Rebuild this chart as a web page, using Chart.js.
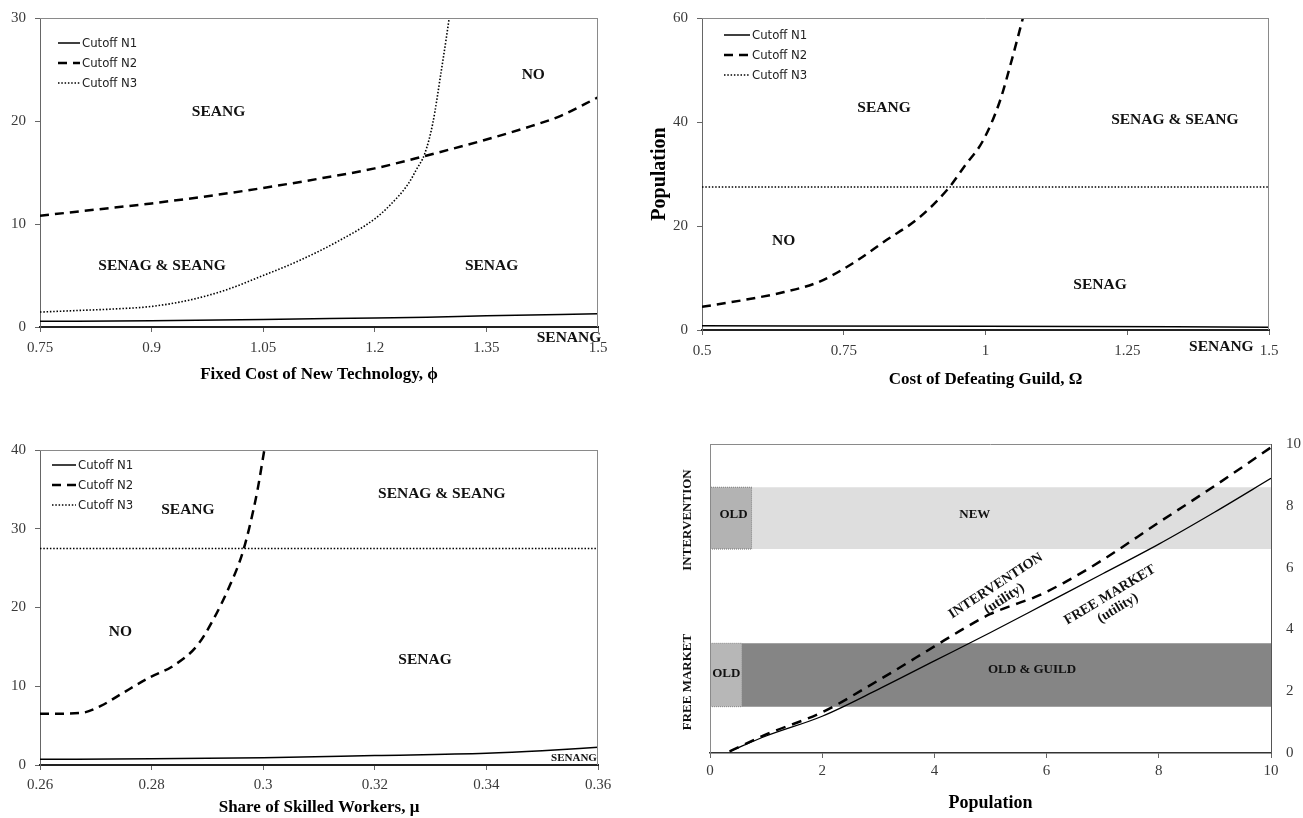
<!DOCTYPE html>
<html>
<head>
<meta charset="utf-8">
<script src="https://cdn.jsdelivr.net/npm/chart.js"></script>
<style>
  body { margin: 0; background: #fff; width: 1303px; height: 818px; position: relative; overflow: hidden; }
  canvas { position: absolute; }
</style>
</head>
<body>
<canvas id="c1" width="650" height="400" style="left:0;top:0"></canvas>
<canvas id="c2" width="658" height="400" style="left:645px;top:0"></canvas>
<canvas id="c3" width="650" height="418" style="left:0;top:400px"></canvas>
<canvas id="c4" width="653" height="418" style="left:650px;top:400px"></canvas>
<script>
// ---- data ----

// A: fixed cost of new technology (phi)
const aN1x = [0.75, 0.9, 1.05, 1.2, 1.27, 1.35, 1.5];
const aN1y = [0.55, 0.6, 0.72, 0.88, 0.95, 1.1, 1.28];
const aN2x = [0.75, 0.825, 0.9, 0.975, 1.05, 1.125, 1.2, 1.267, 1.35, 1.41, 1.45, 1.5];
const aN2y = [10.8, 11.4, 12.0, 12.7, 13.5, 14.4, 15.4, 16.6, 18.2, 19.5, 20.5, 22.3];
const aN3x = [0.75, 0.8, 0.85, 0.9, 0.95, 1.0, 1.05, 1.1, 1.15, 1.2, 1.22, 1.245, 1.256, 1.267, 1.278, 1.289, 1.296, 1.3];
const aN3y = [1.45, 1.6, 1.75, 2.0, 2.6, 3.6, 5.0, 6.5, 8.3, 10.5, 11.8, 13.9, 15.3, 16.8, 19.8, 24.7, 28, 30];

// B: cost of defeating guild (Omega)
const bN1x = [0.5, 1.0, 1.5];
const bN1y = [0.8, 0.7, 0.55];
const bN2x = [0.5, 0.586, 0.645, 0.705, 0.764, 0.824, 0.883, 0.935, 0.965, 0.995, 1.025, 1.047, 1.066];
const bN2y = [4.45, 6.0, 7.3, 9.2, 12.7, 17.2, 21.6, 27.3, 31.8, 36.3, 43.9, 52.2, 60];
const bN3x = [0.5, 1.5];
const bN3y = [27.5, 27.5];

// C: share of skilled workers (mu)
const cN1x = [0.26, 0.28, 0.3, 0.32, 0.34, 0.35, 0.36];
const cN1y = [0.72, 0.78, 0.93, 1.2, 1.48, 1.8, 2.25];
const cN2x = [0.26, 0.2673, 0.2709, 0.2745, 0.2796, 0.2839, 0.2882, 0.291, 0.2939, 0.2961, 0.2975, 0.299, 0.3002];
const cN2y = [6.5, 6.6, 7.5, 9.0, 11.1, 12.6, 15.2, 18.4, 22.6, 26.5, 30.1, 35.0, 40];
const cN3x = [0.26, 0.36];
const cN3y = [27.5, 27.5];

// D: utility against population
const freeX = [0.35, 1, 2, 3, 4, 5, 6, 7, 8, 9, 10];
const freeY = [0.05, 0.55, 1.19, 2.06, 2.98, 3.9, 4.85, 5.8, 6.76, 7.8, 8.89];
const intvX = [0.35, 1, 2, 3, 4, 4.5, 5, 5.5, 5.8, 6.3, 7, 8, 9, 10];
const intvY = [0.05, 0.6, 1.32, 2.35, 3.45, 4.0, 4.5, 4.85, 5.05, 5.5, 6.25, 7.46, 8.65, 9.89];
const bandName = ['NEW', 'OLD', 'OLD & GUILD', 'OLD'];
const bandX0 = [0.75, 0, 0.57, 0];
const bandX1 = [10, 0.75, 10, 0.57];
const bandY0 = [6.6, 6.6, 1.5, 1.5];
const bandY1 = [8.6, 8.6, 3.55, 3.55];

// ---- styles ----
const serif = '"Liberation Serif", "DejaVu Serif", serif';
const narrow = '"Liberation Sans Narrow", "DejaVu Sans Condensed", "Liberation Sans", sans-serif';
const bandColor = ['#dedede', '#b3b3b3', '#858585', '#b7b7b7'];
const bandEdge = [null, '#777', null, '#888'];

const solid = { borderWidth: 1.5 };
const dashed = { borderWidth: 2.5, borderDash: [9, 6] };
const dotted = { borderWidth: 1.6, borderDash: [1.5, 1.8] };

function pts(xs, ys) {
  return xs.map((x, i) => ({ x: x, y: ys[i] }));
}

function curve(label, xs, ys, style) {
  return Object.assign({
    label: label,
    data: pts(xs, ys),
    borderColor: '#000',
    pointRadius: 0,
    fill: false,
    cubicInterpolationMode: 'monotone'
  }, style);
}

function tickText(v) {
  return String(+v.toFixed(4));
}

function xScale(min, max, step, title, h, tickPad, titlePad) {
  return {
    type: 'linear', position: 'bottom', min: min, max: max,
    afterFit: s => { s.height = h; },
    ticks: { stepSize: step, autoSkip: false, maxRotation: 0, padding: tickPad, color: '#3a3a3a',
      font: { family: serif, size: 15 }, callback: tickText },
    grid: { drawOnChartArea: false, tickLength: 5, color: '#666' },
    border: { color: '#222', width: 2 },
    title: { display: true, text: title, color: '#000',
      font: { family: serif, size: 17, weight: 'bold' }, padding: { top: 0, bottom: titlePad } }
  };
}

function yScale(max, step, w, title) {
  return {
    type: 'linear', position: 'left', min: 0, max: max,
    afterFit: s => { s.width = w; },
    ticks: { stepSize: step, padding: 9, color: '#3a3a3a', font: { family: serif, size: 15 }, callback: tickText },
    grid: { drawOnChartArea: false, tickLength: 5, color: '#666' },
    border: { color: '#666', width: 1 },
    title: { display: !!title, text: title || '', color: '#000',
      font: { family: serif, size: 20, weight: 'bold' }, padding: { top: 3, bottom: 0 } }
  };
}

// thin plot-area border on the sides without an axis
function frame(sides) {
  return {
    id: 'frame',
    afterDatasetsDraw(chart) {
      const { ctx, chartArea: a } = chart;
      ctx.save();
      ctx.strokeStyle = '#8a8a8a';
      ctx.lineWidth = 1;
      ctx.beginPath();
      if (sides.includes('top')) { ctx.moveTo(a.left, a.top + 0.5); ctx.lineTo(a.right, a.top + 0.5); }
      if (sides.includes('right')) { ctx.moveTo(a.right - 0.5, a.top); ctx.lineTo(a.right - 0.5, a.bottom); }
      if (sides.includes('left')) { ctx.moveTo(a.left + 0.5, a.top); ctx.lineTo(a.left + 0.5, a.bottom); }
      ctx.stroke();
      ctx.restore();
    }
  };
}

// legend drawn inside the plot area, top-left
function cutoffLegend(dx, dy, len) {
  return {
    id: 'cutoffLegend',
    afterDatasetsDraw(chart) {
      const { ctx, chartArea: a } = chart;
      ctx.save();
      ctx.font = '13px ' + narrow;
      ctx.fillStyle = '#222';
      ctx.textBaseline = 'middle';
      let row = 0;
      chart.data.datasets.forEach(ds => {
        if (!ds.label || !ds.label.startsWith('Cutoff')) return;
        const y = a.top + dy + row * 20;
        const x = a.left + dx;
        ctx.strokeStyle = '#000';
        ctx.lineWidth = ds.borderWidth;
        ctx.setLineDash(ds.borderDash || []);
        ctx.beginPath();
        ctx.moveTo(x, y);
        ctx.lineTo(x + len, y);
        ctx.stroke();
        ctx.setLineDash([]);
        ctx.fillText(ds.label, x + len + 2, y + 1);
        row++;
      });
      ctx.restore();
    }
  };
}

// region names placed in data coordinates; side = canvas-space vertical captions
function regionText(items, side) {
  return {
    id: 'regionText',
    afterDatasetsDraw(chart) {
      const { ctx, scales } = chart;
      ctx.save();
      ctx.fillStyle = '#111';
      ctx.textAlign = 'center';
      ctx.textBaseline = 'middle';
      items.forEach(it => {
        const size = it.size || 15.5;
        ctx.save();
        ctx.translate(scales.x.getPixelForValue(it.x), scales.y.getPixelForValue(it.y));
        if (it.rot) ctx.rotate(it.rot * Math.PI / 180);
        ctx.font = 'bold ' + size + 'px ' + serif;
        const lines = it.text.split('\n');
        lines.forEach((ln, k) => ctx.fillText(ln, 0, (k - (lines.length - 1) / 2) * size * 1.1));
        ctx.restore();
      });
      (side || []).forEach(it => {
        ctx.save();
        ctx.translate(it.cx, it.cy);
        ctx.rotate(-Math.PI / 2);
        ctx.font = 'bold 13px ' + serif;
        ctx.fillText(it.text, 0, 0);
        ctx.restore();
      });
      ctx.restore();
    }
  };
}

function baseOptions(padding, scales) {
  return {
    responsive: false,
    animation: false,
    events: [],
    layout: { padding: padding },
    plugins: { legend: { display: false }, tooltip: { enabled: false } },
    scales: scales
  };
}

// ---- chart A ----
new Chart(document.getElementById('c1'), {
  type: 'line',
  data: {
    datasets: [
      curve('Cutoff N1', aN1x, aN1y, solid),
      curve('Cutoff N2', aN2x, aN2y, dashed),
      curve('Cutoff N3', aN3x, aN3y, dotted)
    ]
  },
  options: baseOptions({ left: 0, top: 18, right: 52, bottom: 0 }, {
    x: xScale(0.75, 1.5, 0.15, 'Fixed Cost of New Technology, \u03D5', 73, 7, 15),
    y: yScale(30, 10, 40)
  }),
  plugins: [
    frame(['top', 'right']),
    cutoffLegend(18, 25, 22),
    regionText([
      { text: 'SEANG', x: 0.99, y: 20.9 },
      { text: 'NO', x: 1.413, y: 24.5 },
      { text: 'SENAG & SEANG', x: 0.914, y: 5.9 },
      { text: 'SENAG', x: 1.357, y: 5.9 },
      { text: 'SENANG', x: 1.461, y: -1.1 }
    ])
  ]
});

// ---- chart B ----
new Chart(document.getElementById('c2'), {
  type: 'line',
  data: {
    datasets: [
      curve('Cutoff N1', bN1x, bN1y, solid),
      curve('Cutoff N2', bN2x, bN2y, dashed),
      curve('Cutoff N3', bN3x, bN3y, dotted)
    ]
  },
  options: baseOptions({ left: 0, top: 18, right: 34, bottom: 0 }, {
    x: xScale(0.5, 1.5, 0.25, 'Cost of Defeating Guild, \u03A9', 70, 7, 10),
    y: yScale(60, 20, 57, 'Population')
  }),
  plugins: [
    frame(['top', 'right']),
    cutoffLegend(22, 17, 26),
    regionText([
      { text: 'SEANG', x: 0.821, y: 42.7 },
      { text: 'SENAG & SEANG', x: 1.334, y: 40.4 },
      { text: 'NO', x: 0.644, y: 17.2 },
      { text: 'SENAG', x: 1.202, y: 8.6 },
      { text: 'SENANG', x: 1.416, y: -3.2 }
    ])
  ]
});

// ---- chart C ----
new Chart(document.getElementById('c3'), {
  type: 'line',
  data: {
    datasets: [
      curve('Cutoff N1', cN1x, cN1y, solid),
      curve('Cutoff N2', cN2x, cN2y, dashed),
      curve('Cutoff N3', cN3x, cN3y, dotted)
    ]
  },
  options: baseOptions({ left: 0, top: 50, right: 52, bottom: 0 }, {
    x: xScale(0.26, 0.36, 0.02, 'Share of Skilled Workers, \u03BC', 53, 6, 0),
    y: yScale(40, 10, 40)
  }),
  plugins: [
    frame(['top', 'right']),
    cutoffLegend(12, 15, 24),
    regionText([
      { text: 'SEANG', x: 0.2865, y: 32.4 },
      { text: 'SENAG & SEANG', x: 0.332, y: 34.4 },
      { text: 'NO', x: 0.2744, y: 16.9 },
      { text: 'SENAG', x: 0.329, y: 13.3 },
      { text: 'SENANG', x: 0.3557, y: 0.85, size: 11 }
    ])
  ]
});

// ---- chart D ----
const bandSets = bandName.map((name, i) => ({
  label: name,
  data: pts([bandX0[i], bandX1[i], bandX1[i], bandX0[i], bandX0[i]],
            [bandY0[i], bandY0[i], bandY1[i], bandY1[i], bandY0[i]]),
  backgroundColor: bandColor[i],
  borderColor: bandEdge[i] || 'rgba(0,0,0,0)',
  borderWidth: bandEdge[i] ? 1 : 0,
  borderDash: [1, 1],
  pointRadius: 0,
  tension: 0,
  fill: 'shape'
}));

new Chart(document.getElementById('c4'), {
  type: 'line',
  data: {
    datasets: [
      curve('INTERVENTION (utility)', intvX, intvY, { borderWidth: 2.5, borderDash: [10, 7] }),
      curve('FREE MARKET (utility)', freeX, freeY, { borderWidth: 1.3 })
    ].concat(bandSets)
  },
  options: baseOptions({ left: 60, top: 44, right: 0, bottom: 0 }, {
    x: {
      type: 'linear', position: 'bottom', min: 0, max: 10,
      afterFit: s => { s.height = 65; },
      ticks: { stepSize: 2, padding: 4, color: '#3a3a3a', font: { family: serif, size: 15 }, callback: tickText },
      grid: { drawOnChartArea: false, tickLength: 5, color: '#666' },
      border: { color: '#333', width: 1.5 },
      title: { display: true, text: 'Population', color: '#000',
        font: { family: serif, size: 18, weight: 'bold' }, padding: { top: 0, bottom: 4 } }
    },
    y: {
      type: 'linear', position: 'right', min: 0, max: 10,
      afterFit: s => { s.width = 32; },
      ticks: { stepSize: 2, padding: 15, color: '#3a3a3a', font: { family: serif, size: 15 }, callback: tickText },
      grid: { drawOnChartArea: false, drawTicks: false },
      border: { color: '#555', width: 1 }
    }
  }),
  plugins: [
    frame(['top', 'left']),
    regionText([
      { text: 'OLD', x: 0.42, y: 7.7, size: 13 },
      { text: 'NEW', x: 4.72, y: 7.7, size: 13 },
      { text: 'OLD', x: 0.29, y: 2.57, size: 13 },
      { text: 'OLD & GUILD', x: 5.74, y: 2.7, size: 13 },
      { text: 'INTERVENTION\n(utility)', x: 5.17, y: 5.2, rot: -33, size: 14 },
      { text: 'FREE MARKET\n(utility)', x: 7.2, y: 4.9, rot: -31, size: 14 }
    ], [
      { text: 'INTERVENTION', cx: 38, cy: 120 },
      { text: 'FREE MARKET', cx: 38, cy: 282 }
    ])
  ]
});
</script>
</body>
</html>
